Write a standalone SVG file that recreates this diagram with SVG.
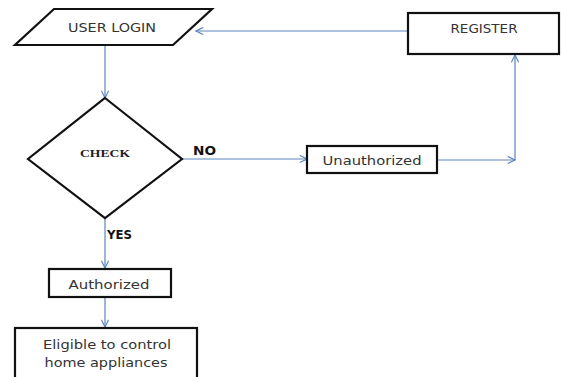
<svg xmlns="http://www.w3.org/2000/svg" width="561" height="377" viewBox="0 0 561 377">
<defs>
<style>
.shape{fill:#fff;stroke:#111;stroke-width:2.2}
.lbl{font-family:"DejaVu Sans","Liberation Sans",sans-serif;font-size:12px;fill:#333}
.bold{font-family:"DejaVu Sans","Liberation Sans",sans-serif;font-size:12px;font-weight:bold;fill:#111}
.serif{font-family:"Liberation Serif","DejaVu Serif",serif;font-size:11px;font-weight:bold;fill:#222}
.conn{fill:none;stroke:#5b86c0;stroke-width:1.2}
</style>
<marker id="arr" viewBox="0 0 10 10" refX="9" refY="5" markerWidth="9" markerHeight="9" markerUnits="userSpaceOnUse" orient="auto">
<path d="M1,1 L9,5 L1,9" fill="none" stroke="#5b86c0" stroke-width="1.3"/>
</marker>
</defs>
<rect width="561" height="377" fill="#fff"/>
<g id="connectors">
<line class="conn" x1="408" y1="31" x2="196" y2="31" marker-end="url(#arr)"/>
<line class="conn" x1="105" y1="45" x2="105" y2="98" marker-end="url(#arr)"/>
<line class="conn" x1="182" y1="159" x2="307" y2="159" marker-end="url(#arr)"/>
<line class="conn" x1="437" y1="160" x2="515" y2="160" marker-end="url(#arr)"/>
<line class="conn" x1="515" y1="160" x2="515" y2="55" marker-end="url(#arr)"/>
<line class="conn" x1="105" y1="218" x2="105" y2="268" marker-end="url(#arr)"/>
<line class="conn" x1="105" y1="297" x2="105" y2="327" marker-end="url(#arr)"/>
</g>
<g id="user-login">
<polygon class="shape" points="54,9 212,9 173,45 15,45"/>
<text class="lbl" x="112" y="32" text-anchor="middle" textLength="88" lengthAdjust="spacingAndGlyphs">USER LOGIN</text>
</g>
<g id="register">
<rect class="shape" x="408" y="13" width="151" height="41"/>
<text class="lbl" x="484" y="33" text-anchor="middle" textLength="67" lengthAdjust="spacingAndGlyphs" font-size="11">REGISTER</text>
</g>
<g id="check">
<polygon class="shape" points="105,98 182,159 105,218 28,159"/>
<text class="serif" x="105" y="157" text-anchor="middle" textLength="50" lengthAdjust="spacingAndGlyphs">CHECK</text>
</g>
<g id="unauthorized">
<rect class="shape" x="307" y="146" width="130" height="27"/>
<text class="lbl" x="372" y="165" text-anchor="middle" textLength="99" lengthAdjust="spacingAndGlyphs">Unauthorized</text>
</g>
<g id="authorized">
<rect class="shape" x="49" y="269" width="122" height="28"/>
<text class="lbl" x="109" y="289" text-anchor="middle" textLength="81" lengthAdjust="spacingAndGlyphs">Authorized</text>
</g>
<g id="eligible">
<rect class="shape" x="15" y="328" width="182" height="55"/>
<text class="lbl" x="107" y="349" text-anchor="middle" textLength="128" lengthAdjust="spacingAndGlyphs">Eligible to control</text>
<text class="lbl" x="106" y="367" text-anchor="middle" textLength="123" lengthAdjust="spacingAndGlyphs">home appliances</text>
</g>
<g id="edge-labels">
<text class="bold" x="193" y="155" textLength="23" lengthAdjust="spacingAndGlyphs">NO</text>
<text class="bold" x="107" y="239" textLength="25" lengthAdjust="spacingAndGlyphs">YES</text>
</g>
</svg>
